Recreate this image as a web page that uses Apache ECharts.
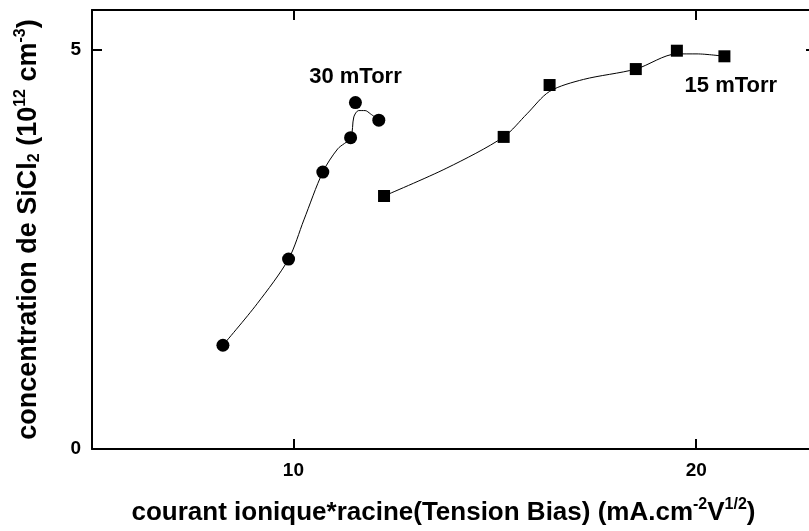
<!DOCTYPE html>
<html>
<head>
<meta charset="utf-8">
<script src="https://cdn.jsdelivr.net/npm/echarts@6/dist/echarts.min.js"></script>
<style>html,body{margin:0;padding:0;background:#fff;}#c{width:809px;height:531px;}</style>
</head>
<body>
<div id="c"></div>
<script>
// measured points
const pts30 = [[8.25,1.30],[9.88,2.38],[10.73,3.47],[11.42,3.90],[11.54,4.34],[12.12,4.12]];
const pts15 = [[12.25,3.17],[15.22,3.91],[16.36,4.56],[18.50,4.76],[19.52,4.99],[20.70,4.92]];
// fitted curves
const fit30 = [[8.25,1.30],[9.1,1.82],[9.88,2.38],[10.26,2.87],[10.73,3.47],[11.10,3.76],[11.42,3.90],[11.50,4.16],[11.62,4.24],[11.78,4.24],[11.91,4.20],[12.12,4.12]];
const fit15 = [[12.25,3.17],[13.81,3.52],[15.22,3.91],[15.80,4.20],[16.36,4.48],[17.20,4.63],[18.50,4.76],[19.52,4.95],[20.02,4.95],[20.70,4.92]];
const xTicks = [10,20];
const yTicks = [0,5];
const annotations = [[11.54,4.66,'30 mTorr'],[20.86,4.55,'15 mTorr']];

const font = 'Liberation Sans, Arial, sans-serif';
const axisLine = {show:true, onZero:false, lineStyle:{color:'#000', width:2}};
const tick = (vals, len)=>({show:true, inside:true, length:len||10, lineStyle:{color:'#000', width:2}, customValues:vals});
const chart = echarts.init(document.getElementById('c'));
chart.setOption({
  backgroundColor:'#fff',
  animation:false,
  grid:{left:92, top:10, right:0, bottom:81},
  xAxis:[
    {type:'value', position:'bottom', min:5, max:22.8, axisLine, axisTick:tick(xTicks),
     axisLabel:{show:true, customValues:xTicks, color:'#000', fontSize:19, fontWeight:'bold', fontFamily:font, margin:12},
     splitLine:{show:false},
     name:'{t|courant ionique*racine(Tension Bias) (mA.cm}{sup|-2}{t|V}{sup|1/2}{t|)}',
     nameLocation:'middle', nameGap:48,
     nameTextStyle:{padding:[0,14,0,0], rich:{
       t:{fontSize:26, fontWeight:'bold', fontFamily:font, color:'#000'},
       sup:{fontSize:16, fontWeight:'bold', fontFamily:font, color:'#000', padding:[0,0,16,0]}
     }}},
    {type:'value', position:'top', min:5, max:22.8, axisLine, axisTick:tick(xTicks),
     axisLabel:{show:false}, splitLine:{show:false}}
  ],
  yAxis:[
    {type:'value', position:'left', min:0, max:5.5, axisLine, axisTick:tick(yTicks),
     axisLabel:{show:true, customValues:yTicks, color:'#000', fontSize:19, fontWeight:'bold', fontFamily:font, margin:11},
     splitLine:{show:false},
     name:'{t|concentration de SiCl}{sub|2}{t| (10}{sup|12}{t| cm}{sup|-3}{t|)}',
     nameLocation:'middle', nameGap:47,
     nameTextStyle:{rich:{
       t:{fontSize:27, fontWeight:'bold', fontFamily:font, color:'#000'},
       sup:{fontSize:16, fontWeight:'bold', fontFamily:font, color:'#000', padding:[0,0,16,0]},
       sub:{fontSize:16, fontWeight:'bold', fontFamily:font, color:'#000', padding:[12,0,0,0]}
     }}},
    {type:'value', position:'right', min:0, max:5.5, axisLine:{show:false}, axisTick:tick(yTicks, 3),
     axisLabel:{show:false}, splitLine:{show:false}}
  ],
  series:[
    {type:'line', data:fit30, smooth:0.3, showSymbol:false, symbol:'none', lineStyle:{color:'#000', width:1}, z:2},
    {type:'line', data:fit15, smooth:0.3, showSymbol:false, symbol:'none', lineStyle:{color:'#000', width:1}, z:2},
    {type:'scatter', data:pts30, symbol:'circle', symbolSize:13, itemStyle:{color:'#000', opacity:1}, z:3},
    {type:'scatter', data:pts15, symbol:'rect', symbolSize:12, itemStyle:{color:'#000', opacity:1}, z:3},
    {type:'scatter', data:annotations.map(a=>({value:[a[0],a[1]], name:a[2]})), symbolSize:0,
     itemStyle:{opacity:1},
     label:{show:true, position:'inside', formatter:p=>p.name, color:'#000', opacity:1, fontSize:22, fontWeight:'bold', fontFamily:font}, z:4}
  ]
});
</script>
</body>
</html>
